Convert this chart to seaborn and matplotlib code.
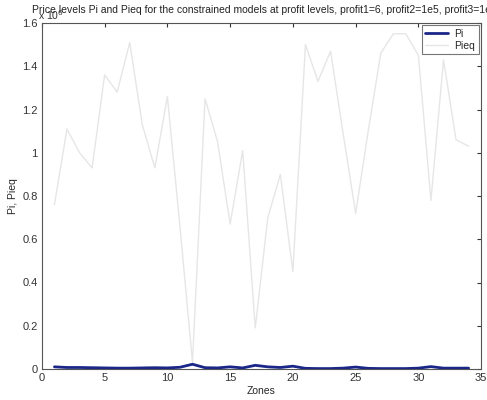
import numpy as np
import pandas as pd
import matplotlib
matplotlib.use("Agg")
import matplotlib.pyplot as plt
import seaborn as sns

# Zone indices and price levels per zone
zones = list(range(1, 35))
pi_values = [0.010, 0.007, 0.007, 0.006, 0.005, 0.004, 0.004, 0.005, 0.006, 0.005,
             0.008, 0.022, 0.006, 0.005, 0.010, 0.005, 0.017, 0.010, 0.007, 0.013,
             0.003, 0.002, 0.002, 0.004, 0.009, 0.003, 0.002, 0.002, 0.002, 0.004,
             0.011, 0.004, 0.004, 0.004]
pieq_values = [0.76, 1.11, 1.00, 0.93, 1.36, 1.28, 1.51, 1.13, 0.93, 1.26,
               0.66, 0.03, 1.25, 1.05, 0.67, 1.01, 0.19, 0.70, 0.90, 0.45,
               1.50, 1.33, 1.47, 1.09, 0.72, 1.10, 1.46, 1.55, 1.55, 1.45,
               0.78, 1.43, 1.06, 1.03]
x_ticks = [0, 5, 10, 15, 20, 25, 30, 35]
y_ticks = [0, 0.2, 0.4, 0.6, 0.8, 1.0, 1.2, 1.4, 1.6]
y_tick_labels = ["0", "0.2", "0.4", "0.6", "0.8", "1", "1.2", "1.4", "1.6"]

sns.set_style("white")
plt.rcParams["font.family"] = ["Liberation Sans", "DejaVu Sans"]

df = pd.DataFrame({
    "Zones": zones * 2,
    "value": pi_values + pieq_values,
    "series": ["Pi"] * len(zones) + ["Pieq"] * len(zones),
})

fig = plt.figure(figsize=(4.87, 4.0), dpi=100)
ax = fig.add_axes([0.086, 0.0775, 0.902, 0.865])

palette = {"Pi": "#1a2788", "Pieq": "#e6e6e6"}
sns.lineplot(data=df[df.series == "Pieq"], x="Zones", y="value", color=palette["Pieq"],
             linewidth=1.0, ax=ax, label="Pieq", zorder=2)
sns.lineplot(data=df[df.series == "Pi"], x="Zones", y="value", color=palette["Pi"],
             linewidth=2.0, ax=ax, label="Pi", zorder=3)

ax.set_xlim(0, 35)
ax.set_ylim(0, 1.6)
ax.set_xticks(x_ticks)
ax.set_yticks(y_ticks)
ax.set_yticklabels(y_tick_labels)
ax.tick_params(direction="in", length=3, labelsize=8, colors="#333333",
               top=True, right=True, pad=3)
for s in ax.spines.values():
    s.set_color("#555555")
    s.set_linewidth(0.8)

ax.set_xlabel("Zones", fontsize=7.5, labelpad=2)
ax.set_ylabel("Pi, Pieq", fontsize=7.5, labelpad=3)

handles, labels = ax.get_legend_handles_labels()
order = [labels.index("Pi"), labels.index("Pieq")]
leg = ax.legend([handles[i] for i in order], [labels[i] for i in order],
                loc="upper right", fontsize=7.5, frameon=True, fancybox=False,
                borderpad=0.35, handlelength=2.2, handletextpad=0.6,
                labelspacing=0.2, borderaxespad=0.2)
leg.get_frame().set_edgecolor("#555555")
leg.get_frame().set_linewidth(0.8)

fig.text(0.105, 0.945, r"x 10$^{6}$", fontsize=7.5, color="#333333", ha="center", va="bottom")
fig.text(0.066, 0.962,
         "Price levels Pi and Pieq for the constrained models at profit levels, "
         "profit1=6, profit2=1e5, profit3=1e6",
         fontsize=7.5, ha="left", va="bottom", color="#222222")

fig.savefig("out.png", dpi=100, facecolor="white")
